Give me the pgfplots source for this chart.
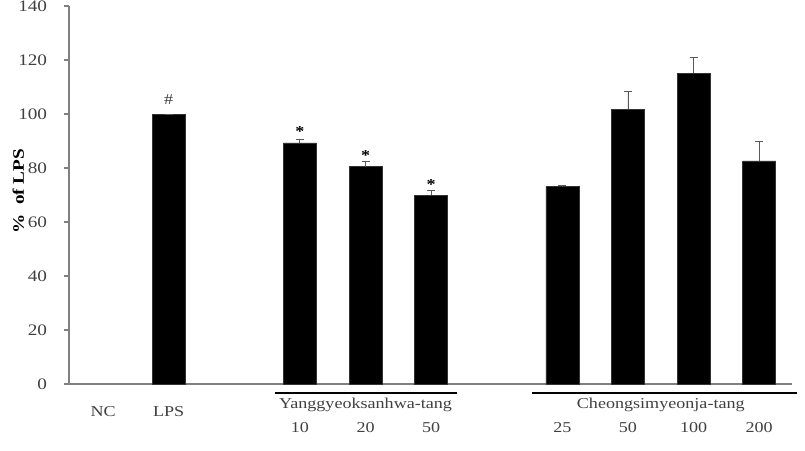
\documentclass[border=0pt]{standalone}
\usepackage{fontspec}
\setmainfont{Liberation Serif}[FakeStretch=1.2]
\usepackage{pgfplots}
\pgfplotsset{compat=1.18}
\definecolor{axgray}{gray}{0.5}
\definecolor{txtgray}{gray}{0.25}
\begin{document}
\fontsize{11.3}{13}\selectfont
\begin{tikzpicture}
\path[use as bounding box] (-51.75pt,-49.5pt) rectangle (552pt,288pt);
\begin{axis}[
  scale only axis,
  width=542.25pt, height=283.5pt,
  xmin=-0.52, xmax=10.5,
  ymin=0, ymax=140,
  axis x line=bottom, axis y line=left,
  axis line style={-, axgray, line width=0.8pt},
  ytick={0,20,...,140},
  tick align=outside,
  ytick style={axgray, line width=0.8pt},
  major tick length=3.75pt,
  xtick style={draw=none},
  /pgf/number format/assume math mode=true,
  yticklabel style={font=\fontsize{12}{14}\selectfont, text=txtgray, inner sep=0pt, xshift=-12.5pt},
  xtick={0,1}, xticklabels={NC,LPS},
  xticklabel style={font=\fontsize{11.3}{13}\selectfont, text=txtgray, yshift=-9.5pt},
  extra x ticks={3,4,5,7,8,9,10},
  extra x tick labels={10,20,50,25,50,100,200},
  extra x tick style={xtick style={draw=none}, xticklabel style={yshift=-11.8pt}},
  ylabel={\textbf{\%\ \ of LPS}},
  every axis y label/.style={at={(rel axis cs:0,0.51)}, xshift=-38pt, rotate=90, anchor=center, font=\fontsize{12}{14}\selectfont},
  ybar, bar width=24.75pt,
  clip=false,
]
\addplot[fill=black, draw=black!80,
  error bars/.cd, y dir=plus, y explicit,
  error bar style={black!65, line width=0.7pt},
  error mark options={black!65, line width=0.7pt, mark size=3pt, rotate=90}]
  table[x=x, y=y, y error=e] {
x y e
1 100 0
3 89.3 1.4
4 80.5 2.1
5 70.0 1.5
7 73.1 0.3
8 101.7 6.6
9 115.1 5.9
10 82.6 7.1
};
\node[text=txtgray] at (axis cs:1,105.5) {\#};
\node at (axis cs:3,93.5) {\textbf{*}};
\node at (axis cs:4,84.5) {\textbf{*}};
\node at (axis cs:5,74) {\textbf{*}};
\draw[black, line width=1pt] ([yshift=-6.75pt]axis cs:2.62,0) -- ([yshift=-6.75pt]axis cs:5.40,0);
\draw[black, line width=1pt] ([yshift=-6.75pt]axis cs:6.54,0) -- ([yshift=-6.75pt]axis cs:10.58,0);
\node[text=txtgray, anchor=center] at ([yshift=-16pt]axis cs:4,0) {Yanggyeoksanhwa-tang};
\node[text=txtgray, anchor=center] at ([yshift=-16pt]axis cs:8.5,0) {Cheongsimyeonja-tang};
\end{axis}
\end{tikzpicture}
\end{document}
